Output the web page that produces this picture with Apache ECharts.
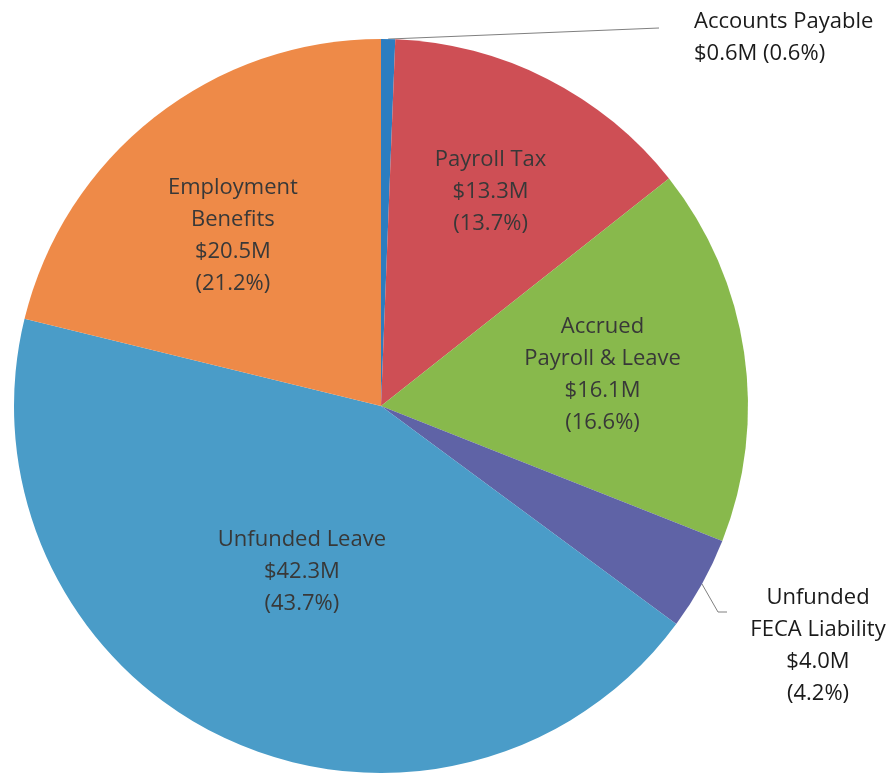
<!DOCTYPE html>
<html><head><meta charset="utf-8">
<script src="https://cdn.jsdelivr.net/npm/echarts@6/dist/echarts.min.js"></script>
<style>html,body{margin:0;padding:0;background:#fff}#chart{width:887px;height:773px}</style>
</head><body><div id="chart"></div>
<script>
// ---- data ----
const categories = ['Accounts Payable', 'Payroll Tax', 'Accrued\nPayroll & Leave', 'Unfunded\nFECA Liability', 'Unfunded Leave', 'Employment\nBenefits'];
const amounts = [0.6, 13.3, 16.1, 4.0, 42.3, 20.5];          // $M
const percents = ['0.6', '13.7', '16.6', '4.2', '43.7', '21.2'];

// ---- style ----
const colors = ['#2C7DC0', '#CE4F55', '#88B94C', '#5F63A6', '#4A9CC8', '#EE8A48'];
const insideShift = [null, [25, -48], [37, -4], null, [0, -3], [-33, -24]];
const outsideLayout = {
  0: { x: 694, y: 38, align: 'left', guide: [[659, 28], [659, 28]] },
  3: { x: 818, y: 646, align: 'center', guide: [[718, 612], [727, 612]] }
};

const chart = echarts.init(document.getElementById('chart'), null, { renderer: 'canvas' });

const data = categories.map((name, i) => {
  const item = { name: name, value: amounts[i], itemStyle: { color: colors[i] } };
  if (outsideLayout[i]) {
    item.label = { position: 'outside', color: '#1a1a1a' };
    item.labelLine = { show: true, length: 10, length2: 10, lineStyle: { color: '#808080', width: 1 } };
  } else {
    item.labelLine = { show: false };
  }
  return item;
});

chart.setOption({
  animation: false,
  backgroundColor: '#ffffff',
  series: [{
    type: 'pie',
    center: [381, 406],
    radius: [0, 367],
    startAngle: 90,
    clockwise: true,
    avoidLabelOverlap: false,
    silent: true,
    data: data,
    itemStyle: { borderWidth: 0 },
    label: {
      show: true,
      position: 'inside',
      fontFamily: 'Open Sans',
      fontSize: 22,
      lineHeight: 32,
      color: '#383838',
      align: 'center',
      formatter: function (p) {
        const i = p.dataIndex;
        if (i === 0) return p.name + '\n$' + amounts[i].toFixed(1) + 'M (' + percents[i] + '%)';
        return p.name + '\n$' + amounts[i].toFixed(1) + 'M\n(' + percents[i] + '%)';
      }
    },
    labelLayout: function (params) {
      const i = params.dataIndex;
      const o = outsideLayout[i];
      if (o) {
        const start = params.labelLinePoints ? params.labelLinePoints[0] : o.guide[0];
        return {
          x: o.x, y: o.y, align: o.align, verticalAlign: 'middle',
          labelLinePoints: [start, o.guide[0], o.guide[1]]
        };
      }
      const s = insideShift[i];
      return s ? { dx: s[0], dy: s[1] } : {};
    }
  }]
});
</script>
</body></html>
